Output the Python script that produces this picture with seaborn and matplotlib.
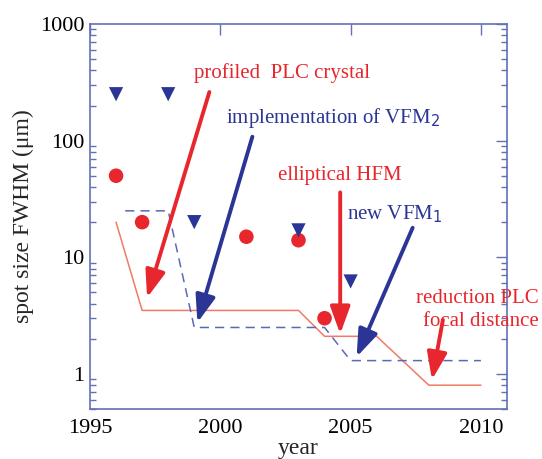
import numpy as np
import pandas as pd
import matplotlib
matplotlib.use("Agg")
import matplotlib.pyplot as plt
import seaborn as sns
from matplotlib.ticker import LogLocator, NullFormatter, FixedLocator

# ---- data ----
circle_year = [1996, 1997, 2001, 2003, 2004]
circle_size = [50, 20, 15, 14, 3]
tri_year = [1996, 1998, 1999, 2003, 2005]
tri_size = [250, 250, 20, 17, 6.2]

red_line_year = [1996, 1997, 2003, 2004, 2006, 2008, 2010]
red_line_size = [20, 3.5, 3.5, 2.1, 2.1, 0.8, 0.8]
blue_line_year = [1996.35, 1998, 1999, 2004, 2005, 2010]
blue_line_size = [25, 25, 2.5, 2.5, 1.3, 1.3]

x_ticks = [1995, 2000, 2005, 2010]
y_ticks = [1, 10, 100, 1000]
y_tick_labels = ["1", "10", "100", "1000"]

RED = "#e8262d"
NAVY = "#2b3595"
SALMON = "#f07a66"
DASHBLUE = "#5a68b8"
FRAME = "#6270b8"

sns.set_theme(style="white")
plt.rcParams["font.family"] = ["Liberation Serif", "DejaVu Serif"]

fig = plt.figure(figsize=(5.42, 4.59), dpi=100)
ax = fig.add_axes([90/542, 1-409/459, 417/542, 385/459])

df_red = pd.DataFrame({"year": red_line_year, "size": red_line_size})
df_blue = pd.DataFrame({"year": blue_line_year, "size": blue_line_size})
sns.lineplot(data=df_red, x="year", y="size", ax=ax, color=SALMON, lw=1.1,
             sort=False, estimator=None)
sns.lineplot(data=df_blue, x="year", y="size", ax=ax, color=DASHBLUE, lw=1.1,
             sort=False, estimator=None, dashes=False, linestyle=(0, (6, 4)))

df_c = pd.DataFrame({"year": circle_year, "size": circle_size})
df_t = pd.DataFrame({"year": tri_year, "size": tri_size})
sns.scatterplot(data=df_c, x="year", y="size", ax=ax, marker="o", s=110,
                color=RED, edgecolor="none", zorder=4)
sns.scatterplot(data=df_t, x="year", y="size", ax=ax, marker="v", s=105,
                color=NAVY, edgecolor="none", zorder=4)

ax.set_yscale("log")
ax.set_xlim(1995, 2011)
ax.set_ylim(0.5, 1000)

# arrows
arrows = [
    ((1999.58, 261), (1997.19, 4.5), RED),
    ((2001.23, 108), (1999.12, 2.75), NAVY),
    ((2004.6, 36), (2004.6, 2.2), RED),
    ((2007.38, 17.9), (2005.23, 1.40), NAVY),
    ((2008.54, 2.9), (2008.12, 0.89), RED),
]
for start, end, c in arrows:
    ax.annotate("", xy=end, xytext=start,
                arrowprops=dict(arrowstyle="-|>,head_length=1.1,head_width=0.4",
                                color=c, lw=2.8, shrinkA=0, shrinkB=0,
                                mutation_scale=15))

fs = 15
ax.text(2002.35, 380, "profiled  PLC crystal", color=RED, fontsize=fs,
        ha="center", va="center")
ax.text(2000.2, 155, "implementation of VFM$_2$", color=NAVY, fontsize=fs,
        ha="left", va="center")
ax.text(2004.6, 50, "elliptical HFM", color=RED, fontsize=fs,
        ha="center", va="center")
ax.text(2006.7, 23.5, "new VFM$_1$", color=NAVY, fontsize=fs,
        ha="center", va="center")
ax.text(2012.2, 4.45, "reduction PLC", color=RED, fontsize=fs,
        ha="right", va="center")
ax.text(2012.2, 2.81, "focal distance", color=RED, fontsize=fs,
        ha="right", va="center")

# ticks
ax.xaxis.set_major_locator(FixedLocator(x_ticks))
ax.set_xticklabels([str(t) for t in x_ticks])
ax.yaxis.set_major_locator(FixedLocator(y_ticks))
ax.set_yticklabels(y_tick_labels)
ax.yaxis.set_minor_locator(LogLocator(base=10, subs=np.arange(2, 10)))
ax.yaxis.set_minor_formatter(NullFormatter())
ax.tick_params(axis="both", which="major", direction="in", length=8, width=1,
               color=FRAME, labelsize=16, labelcolor="black",
               top=True, right=True, pad=4)
ax.tick_params(axis="x", which="major", pad=7)
ax.tick_params(axis="y", which="minor", direction="in", length=4, width=1,
               color=FRAME, left=True, right=True)
for sp in ax.spines.values():
    sp.set_color(FRAME)
    sp.set_linewidth(1.2)

ax.set_xlabel("year", fontsize=17, labelpad=0)
ax.set_ylabel("spot size FWHM (\u03bcm)", fontsize=17, labelpad=4)
ax.grid(False)

fig.savefig("out.png", dpi=100)
